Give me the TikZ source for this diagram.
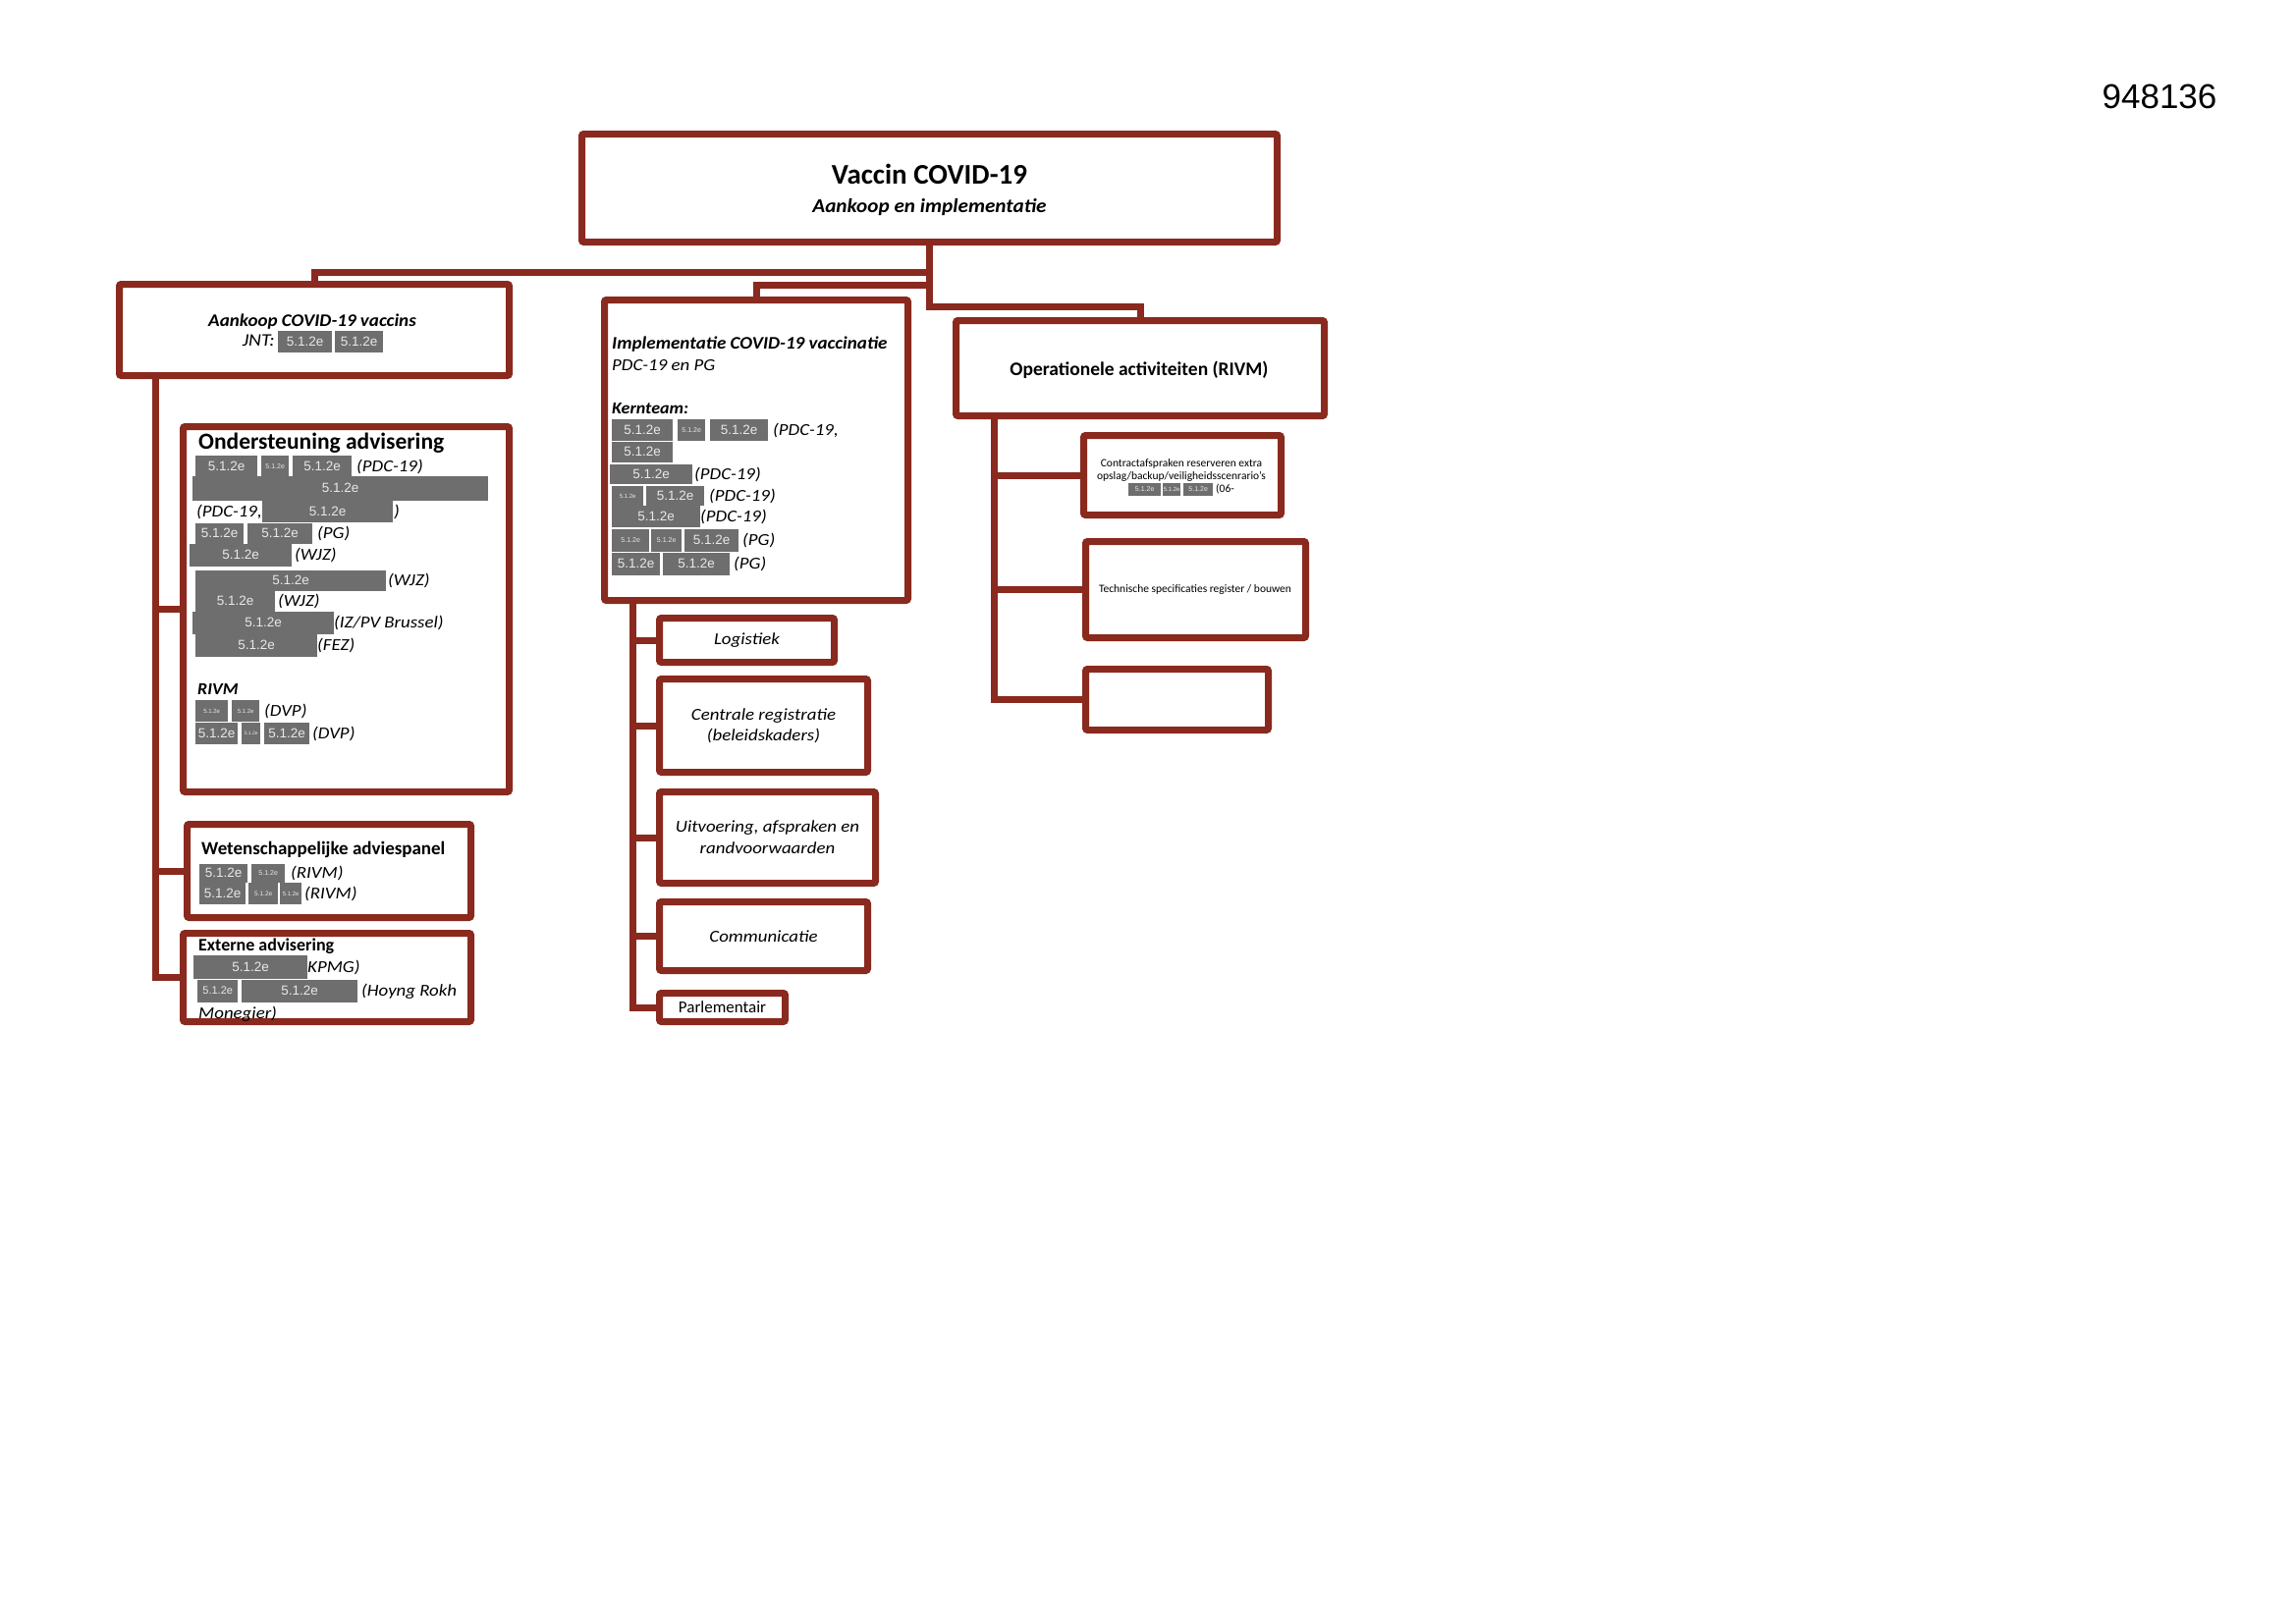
\documentclass[tikz,border=0pt]{standalone}
\usepackage{fontspec}
\setmainfont{Carlito}[ItalicFeatures={FakeStretch=1.11}, BoldItalicFeatures={FakeStretch=1.06}]
\newfontfamily\arialf{Liberation Sans}
\definecolor{brd}{RGB}{138,41,30}
\definecolor{redg}{RGB}{110,110,110}
\definecolor{redt}{RGB}{232,232,232}
\newcommand\fs[1]{\fontsize{#1}{#1}\selectfont}
\newcommand\bx[5]{\node[box, minimum width={#4-#2-7}, minimum height={#5-#3-7}] (#1) at ({(#2+#4)/2},{(#3+#5)/2}) {};}
\newcommand\rd[6]{\node[redact, minimum width=#4, minimum height=#5, font=\arialf\fs{#6}] (#1) at (#2,#3) {5.1.2e};}
\newcommand\lb[4]{\node[lbl] (#1) at (#2,#3) {#4};}
\tikzset{
  box/.style={draw=brd, line width=7pt, fill=white, rounded corners=2pt, inner sep=0pt},
  conn/.style={draw=brd, line width=7pt},
  redact/.style={fill=redg, text=redt, inner sep=0pt, anchor=west},
  lbl/.style={inner sep=0pt, anchor=mid west, yshift=-3pt, font=\itshape\fs{17}},
  ttl/.style={inner sep=0pt, anchor=base west},
  ctr/.style={inner sep=0pt, align=center},
}
\begin{document}
\begin{tikzpicture}[x=1pt,y=-1pt]
\path[use as bounding box, fill=white] (0,0) rectangle (2338,1654);

\node[inner sep=0pt, font=\arialf\fs{35}] (num) at (2199,98) {948136};

% boxes
\bx{top}{589}{133}{1304}{250}
\bx{aank}{118}{286}{522}{386}
\bx{impl}{612}{302}{928}{615}
\bx{oper}{970}{323}{1352}{427}
\bx{onder}{183}{431}{522}{810}
\bx{wet}{187}{836}{483}{938}
\bx{ext}{183}{947}{483}{1044}
\bx{log}{668}{626}{853}{678}
\bx{cent}{668}{688}{887}{790}
\bx{uitv}{668}{803}{895}{903}
\bx{comm}{668}{915}{887}{992}
\bx{parl}{668}{1008}{803}{1044}
\bx{contr}{1100}{440}{1308}{528}
\bx{tech}{1102}{548}{1333}{653}
\bx{empty}{1102}{678}{1295}{747}

% connectors
\coordinate (j1) at (946.5,277);
\coordinate (j2) at (946.5,290);
\coordinate (j3) at (946.5,312);
\draw[conn] (top.south) -- (j3) -| (oper.north);
\draw[conn] (j1) -| (aank.north);
\draw[conn] (j2) -| (impl.north);

\coordinate (lv) at (158,383);
\draw[conn] (lv) |- (ext.west);
\draw[conn] (lv |- onder.west) -- (onder.west);
\draw[conn] (lv |- wet.west) -- (wet.west);

\coordinate (mv) at (644,612);
\draw[conn] (mv) |- (parl.west);
\draw[conn] (mv |- log.west) -- (log.west);
\draw[conn] (mv |- cent.west) -- (cent.west);
\draw[conn] (mv |- uitv.west) -- (uitv.west);
\draw[conn] (mv |- comm.west) -- (comm.west);

\coordinate (rv) at (1012,424);
\draw[conn] (rv) |- (empty.west);
\draw[conn] (rv |- contr.west) -- (contr.west);
\draw[conn] (rv |- tech.west) -- (tech.west);

% top box text
\node[inner sep=0pt, anchor=base, font=\bfseries\fs{29}] (t1) at (946.5,187) {Vaccin COVID-19};
\node[inner sep=0pt, anchor=base, font=\bfseries\itshape\fs{20}] (t2) at (946.5,216) {Aankoop en implementatie};

% Aankoop
\node[inner sep=0pt, anchor=base, font=\bfseries\itshape\fs{18}] (a1) at (318,332) {Aankoop COVID-19 vaccins};
\node[inner sep=0pt, anchor=mid east, yshift=-2pt, font=\itshape\fs{18}] (a2) at (280,348) {JNT:};
\rd{a3}{283}{348}{55}{22}{13.5}
\rd{a4}{341}{348}{49}{22}{13.5}

% Ondersteuning advisering
\node[ttl, font=\bfseries\fs{23.5}] (o0) at (202,457) {Ondersteuning advisering};
\rd{o1a}{199}{475}{63}{22}{13.5}
\rd{o1b}{266}{475}{28}{22}{7}
\rd{o1c}{298}{475}{60}{22}{13.5}
\lb{o1d}{363}{475}{(PDC-19)}
\rd{o2a}{196}{497}{301}{25}{13.5}
\lb{o3a}{200}{521}{(PDC-19,}
\rd{o3b}{267}{521}{133}{22}{13.5}
\lb{o3c}{401}{521}{)}
\rd{o4a}{199}{543}{49}{21}{13.5}
\rd{o4b}{252}{543}{66}{21}{13.5}
\lb{o4c}{323}{543}{(PG)}
\rd{o5a}{193}{565}{104}{23}{13.5}
\lb{o5b}{300}{565}{(WJZ)}
\rd{o6a}{199}{591}{194}{21}{13.5}
\lb{o6b}{395}{591}{(WJZ)}
\rd{o7a}{199}{612}{81}{21}{13.5}
\lb{o7b}{283}{612}{(WJZ)}
\rd{o8a}{196}{634}{144}{23}{13.5}
\lb{o8b}{340}{634}{(IZ/PV Brussel)}
\rd{o9a}{199}{657}{124}{24}{13.5}
\lb{o9b}{323}{657}{(FEZ)}
\node[ttl, font=\bfseries\itshape\fs{17}] (o10) at (201,707) {RIVM};
\rd{o11a}{199}{724}{33}{22}{6}
\rd{o11b}{236}{724}{28}{22}{6}
\lb{o11c}{269}{724}{(DVP)}
\rd{o12a}{199}{747}{43}{22}{13.5}
\rd{o12b}{246}{747}{19}{22}{5}
\rd{o12c}{269}{747}{46}{22}{13.5}
\lb{o12d}{318}{747}{(DVP)}

% Wetenschappelijke adviespanel
\node[ttl, font=\bfseries\fs{19}] (w0) at (205,870) {Wetenschappelijke adviespanel};
\rd{w1a}{203}{889}{49}{19}{13.5}
\rd{w1b}{256}{889}{34}{19}{7}
\lb{w1c}{296}{889}{(RIVM)}
\rd{w2a}{203}{910}{47}{22}{13.5}
\rd{w2b}{253}{910}{30}{22}{6.5}
\rd{w2c}{285}{910}{22}{22}{6}
\lb{w2d}{310}{910}{(RIVM)}

% Externe advisering
\node[ttl, font=\bfseries\fs{18}] (e0) at (202,968) {Externe advisering};
\rd{e1a}{197}{985}{116}{24}{13.5}
\lb{e1b}{313}{985}{KPMG)}
\rd{e2a}{201}{1009}{41}{23}{11}
\rd{e2b}{246}{1009}{118}{23}{13.5}
\lb{e2c}{368}{1009}{(Hoyng Rokh}
\lb{e3}{202}{1032}{Monegier)}

% Implementatie
\node[ttl, font=\bfseries\itshape\fs{18}] (i0) at (623,355) {Implementatie COVID-19 vaccinatie};
\node[ttl, font=\itshape\fs{17}] (i1) at (623,377) {PDC-19 en PG};
\node[ttl, font=\bfseries\itshape\fs{17}] (i2) at (623,421) {Kernteam:};
\rd{i3a}{623}{438}{62}{22}{13.5}
\rd{i3b}{690}{438}{28}{22}{7}
\rd{i3c}{723}{438}{59}{22}{13.5}
\lb{i3d}{787}{438}{(PDC-19,}
\rd{i4a}{623}{460}{62}{21}{13.5}
\rd{i5a}{621}{483}{84}{20}{13.5}
\lb{i5b}{707}{483}{(PDC-19)}
\rd{i6a}{623}{505}{32}{20}{6}
\rd{i6b}{658}{505}{59}{20}{13.5}
\lb{i6c}{722}{505}{(PDC-19)}
\rd{i7a}{623}{526}{90}{22}{13.5}
\lb{i7b}{713}{526}{(PDC-19)}
\rd{i8a}{623}{550}{38}{23}{7}
\rd{i8b}{663}{550}{31}{23}{7}
\rd{i8c}{697}{550}{55}{23}{13.5}
\lb{i8d}{756}{550}{(PG)}
\rd{i9a}{623}{574}{49}{23}{13.5}
\rd{i9b}{675}{574}{68}{23}{13.5}
\lb{i9c}{747}{574}{(PG)}

% Implementatie sub boxes
\node[ctr, font=\itshape\fs{17}] (logt) at (log) {Logistiek};
\node[ctr, font=\itshape\fontsize{17}{21}\selectfont] (centt) at (cent) {Centrale registratie\\(beleidskaders)};
\node[ctr, font=\itshape\fontsize{17}{22}\selectfont] (uitvt) at (uitv) {Uitvoering, afspraken en\\randvoorwaarden};
\node[ctr, font=\itshape\fs{17}] (commt) at (comm) {Communicatie};
\node[ctr, font=\fs{17}] (parlt) at (parl) {Parlementair};

% Operationele
\node[inner sep=0pt, anchor=base, font=\bfseries\fs{19.5}] (op0) at (1160,382) {Operationele activiteiten (RIVM)};
\node[inner sep=0pt, anchor=base, font=\fs{11.5}] (c1) at (1203,475) {Contractafspraken reserveren extra};
\node[inner sep=0pt, anchor=base, font=\fs{11.5}] (c2) at (1203,488) {opslag/backup/veiligheidsscenrario’s};
\rd{c3a}{1149}{498}{33}{13}{7}
\rd{c3b}{1184}{498}{18}{13}{6}
\rd{c3c}{1205}{498}{30}{13}{7}
\node[lbl, yshift=2pt, font=\fs{11.5}] (c3d) at (1238,498) {(06-};
\node[inner sep=0pt, anchor=base, font=\fs{11.5}] (te) at (1217,603) {Technische specificaties register / bouwen};
\end{tikzpicture}
\end{document}
